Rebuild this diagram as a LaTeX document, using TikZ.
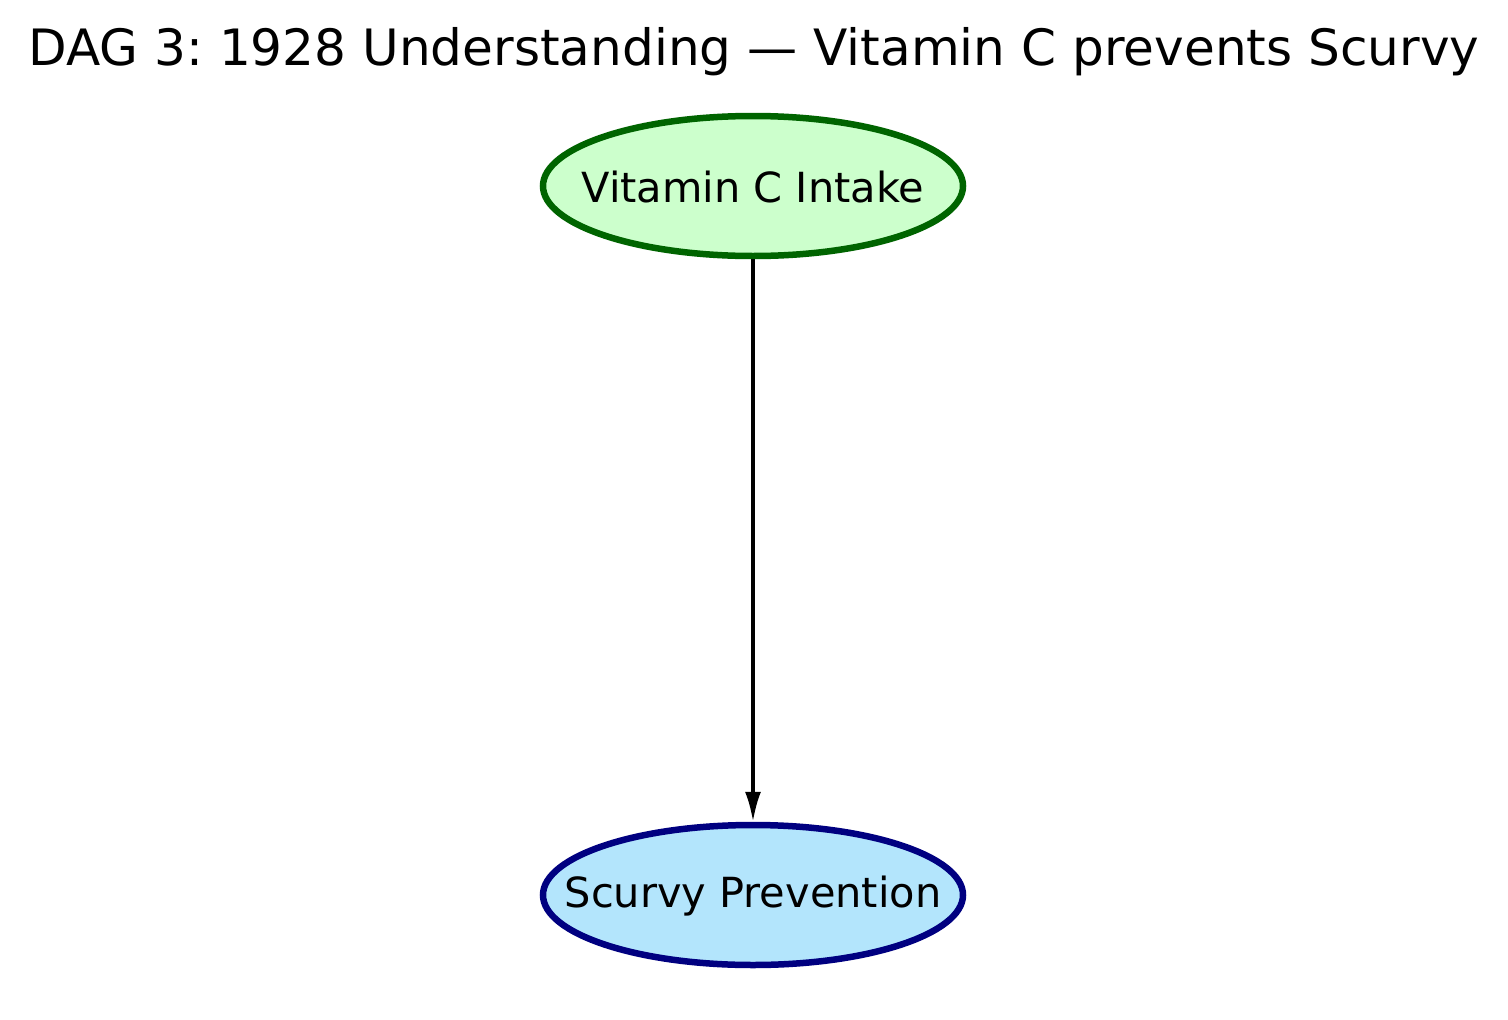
\documentclass[tikz,border=0pt]{standalone}
\usepackage{fontspec}
\setmainfont{DejaVu Sans}
\usetikzlibrary{shapes.geometric,arrows.meta}
\definecolor{gfill}{HTML}{CCFFCC}
\definecolor{gdraw}{HTML}{006400}
\definecolor{bfill}{HTML}{B3E5FC}
\definecolor{bdraw}{HTML}{000080}
\tikzset{
  vnode/.style={ellipse, line width=6.5pt, minimum width=420pt, minimum height=140pt, inner sep=0pt},
  vlabel/.style={font=\fontsize{41.5}{50}\selectfont, inner sep=0pt},
  edge/.style={line width=3.3pt, -{Latex[length=30pt,width=16pt]}},
}
\frenchspacing
\begin{document}
\begin{tikzpicture}[x=1pt,y=-1pt]
\useasboundingbox[fill=white] (0,0) rectangle (1508,1020);
\node[font=\fontsize{50.1}{58}\selectfont, inner sep=0pt] (title) at (754,52) {\frenchspacing DAG 3: 1928 Understanding — Vitamin C prevents Scurvy};
\node[vnode, draw=gdraw, fill=gfill] (vc) at (753,186) {};
\node[vlabel] (vct) at (753,187) {Vitamin C Intake};
\node[vnode, draw=bdraw, fill=bfill] (sp) at (753,895) {};
\node[vlabel] (spt) at (753,896) {Scurvy Prevention};
\draw[edge] (vc) -- (sp);
\end{tikzpicture}
\end{document}
